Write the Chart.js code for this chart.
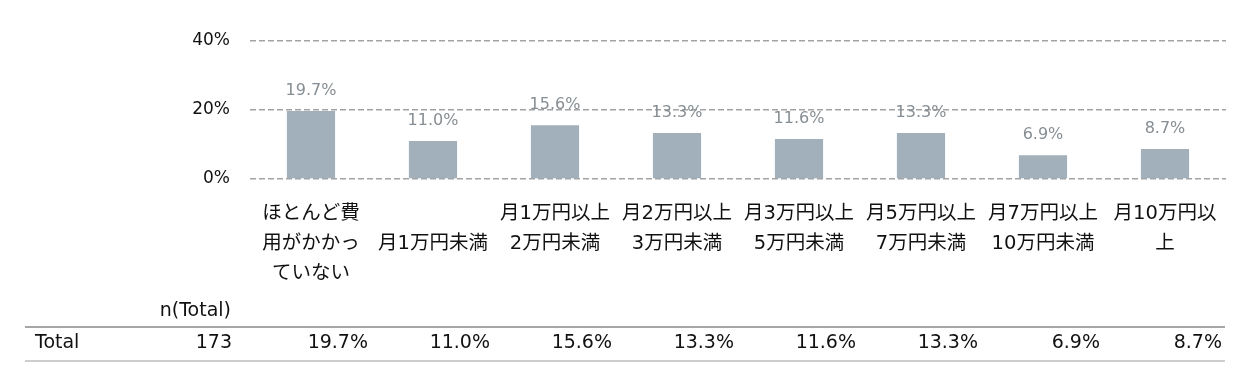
<!DOCTYPE html>
<html>
<head>
<meta charset="utf-8">
<script src="https://cdn.jsdelivr.net/npm/chart.js@4/dist/chart.umd.min.js"></script>
<style>
  html, body { margin: 0; padding: 0; background: #fff; }
  #wrap { width: 1256px; height: 388px; }
</style>
</head>
<body>
<div id="wrap"><canvas id="costChart" width="1256" height="388"></canvas></div>
<script>
// データ
const categories = [
    ['ほとんど費', '用がかかっ', 'ていない'],
    ['月1万円未満'],
    ['月1万円以上', '2万円未満'],
    ['月2万円以上', '3万円未満'],
    ['月3万円以上', '5万円未満'],
    ['月5万円以上', '7万円未満'],
    ['月7万円以上', '10万円未満'],
    ['月10万円以', '上']
];
const totalValues = [19.7, 11.0, 15.6, 13.3, 11.6, 13.3, 6.9, 8.7];
const totalN = 173;
const yTicks = [0, 20, 40];

const FONT = "'DejaVu Sans', 'Noto Sans CJK JP', sans-serif";

// バー上の数値ラベル + 下の表
const labelsAndTable = {
    id: 'labelsAndTable',
    afterDatasetsDraw(chart) {
        const ctx = chart.ctx;
        const meta = chart.getDatasetMeta(0);
        ctx.save();
        ctx.font = '16px ' + FONT;
        ctx.fillStyle = '#868e93';
        ctx.textAlign = 'center';
        ctx.textBaseline = 'bottom';
        meta.data.forEach((bar, i) => {
            ctx.fillText(totalValues[i].toFixed(1) + '%', bar.x, bar.y - 12);
        });
        ctx.restore();
    },
    afterDraw(chart) {
        const ctx = chart.ctx;
        const x = chart.scales.x;
        ctx.save();
        ctx.font = '19px ' + FONT;
        ctx.fillStyle = '#111';
        ctx.textBaseline = 'middle';

        ctx.textAlign = 'left';
        ctx.fillText('Total', 35, 343);
        ctx.textAlign = 'right';
        ctx.fillText('n(Total)', 231, 311);

        ctx.strokeStyle = '#a6a6a6';
        ctx.lineWidth = 2;
        ctx.beginPath();
        ctx.moveTo(25, 327);
        ctx.lineTo(1225, 327);
        ctx.stroke();

        ctx.strokeStyle = '#bdbdbd';
        ctx.lineWidth = 1.5;
        ctx.beginPath();
        ctx.moveTo(25, 361);
        ctx.lineTo(1225, 361);
        ctx.stroke();

        ctx.fillText(String(totalN), 232, 343);
        totalValues.forEach((v, i) => {
            ctx.fillText(v.toFixed(1) + '%', x.getPixelForValue(i) + 57, 343);
        });
        ctx.restore();
    }
};

const ctx = document.getElementById('costChart').getContext('2d');
const costChart = new Chart(ctx, {
    type: 'bar',
    data: {
        labels: categories,
        datasets: [{
            data: totalValues,
            backgroundColor: '#a2b0bb',
            categoryPercentage: 1,
            barPercentage: 0.395
        }]
    },
    options: {
        responsive: false,
        animation: false,
        layout: { padding: { left: 0, right: 30, top: 41, bottom: 0 } },
        plugins: {
            legend: { display: false },
            tooltip: { enabled: false }
        },
        scales: {
            y: {
                min: 0,
                max: 40,
                afterFit(scale) { scale.width = 250; },
                afterBuildTicks(scale) {
                    scale.ticks = yTicks.map(v => ({ value: v }));
                },
                grid: {
                    color: '#a3a3a3',
                    lineWidth: 1.6,
                    drawTicks: false
                },
                border: { display: false, dash: [6, 3] },
                ticks: {
                    padding: 20,
                    color: '#111',
                    font: { family: FONT, size: 17 },
                    callback: v => v + '%'
                }
            },
            x: {
                afterFit(scale) { scale.height = 209; },
                grid: { display: false },
                border: { display: false },
                ticks: {
                    padding: 12,
                    maxRotation: 0,
                    autoSkip: false,
                    color: '#111',
                    font: { family: FONT, size: 19.5, lineHeight: 1.54 },
                    // 1行だけのラベルは2行目の位置に置く
                    callback: function(value) {
                        const lines = this.getLabelForValue(value);
                        return lines.length === 1 ? ['', lines[0]] : lines;
                    }
                }
            }
        }
    },
    plugins: [labelsAndTable]
});
</script>
</body>
</html>
